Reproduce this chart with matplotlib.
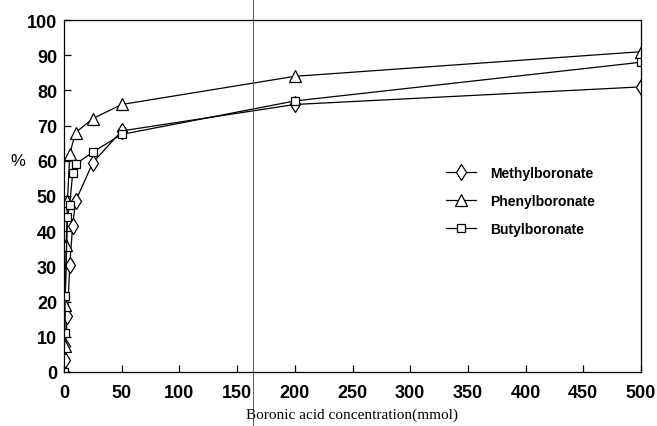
import matplotlib
matplotlib.use('Agg')
from matplotlib import pyplot as plt
from matplotlib.lines import Line2D

# our data
# ====
methyl_x = [0, 0.5, 1, 3, 5, 7.5, 10, 25, 50, 200, 500]
methyl_y = [0, 3.5, 7.5, 16, 30.5, 41.5, 48.5, 59.5, 68.5, 76, 81]

phenyl_x = [0, 0.5, 1, 2, 3, 5, 10, 25, 50, 200, 500]
phenyl_y = [0, 7.5, 19, 36, 48.5, 62, 68, 72, 76, 84, 91]

butyl_x = [0, 0.5, 1, 3, 5, 7.5, 10, 25, 50, 200, 500]
butyl_y = [0, 11, 21.5, 44, 47.5, 56.5, 59, 62.5, 67.5, 77, 88]

labels = ['Methylboronate', 'Phenylboronate', 'Butylboronate']
xticks = [0, 50, 100, 150, 200, 250, 300, 350, 400, 450, 500]
yticks = [0, 10, 20, 30, 40, 50, 60, 70, 80, 90, 100]

# plotting
# =====
fig = plt.figure(figsize=(6.57, 4.27), dpi=100)
ax = fig.add_axes([64 / 657, 1 - 373 / 427, 577 / 657, 352 / 427])

style = dict(color='black', lw=0.9, mfc='white', mec='black', mew=0.9)
ax.plot(methyl_x, methyl_y, marker='d', ms=8, label=labels[0], **style)
ax.plot(phenyl_x, phenyl_y, marker='^', ms=8, label=labels[1], **style)
ax.plot(butyl_x, butyl_y, marker='s', ms=6, label=labels[2], **style)

ax.set_xlim(0, 500)
ax.set_ylim(0, 100)
ax.set_xticks(xticks)
ax.set_yticks(yticks)
ax.tick_params(axis='both', direction='in', length=5, width=0.9)
ax.tick_params(axis='x', pad=9)
ax.tick_params(axis='y', pad=5)
for lab in ax.get_xticklabels() + ax.get_yticklabels():
    lab.set_fontfamily('Liberation Sans')
    lab.set_fontweight('bold')
    lab.set_fontsize(13)
for s in ax.spines.values():
    s.set_linewidth(0.9)

ax.set_xlabel('Boronic acid concentration(mmol)', family='Liberation Serif',
              fontsize=11, labelpad=4)
fig.text(18 / 657, 1 - 162 / 427, '%', family='Liberation Sans',
         fontsize=12, ha='center', va='center')

leg = ax.legend(frameon=False, loc='center left', bbox_to_anchor=(0.64, 0.486),
                handlelength=2.2, labelspacing=1.0, handletextpad=1.0,
                prop={'family': 'Liberation Sans', 'weight': 'bold', 'size': 10})

# scanner line
fig.add_artist(Line2D([253 / 657, 253 / 657], [0, 1], color='#444444', lw=0.6))

plt.savefig('out.png', dpi=100)
